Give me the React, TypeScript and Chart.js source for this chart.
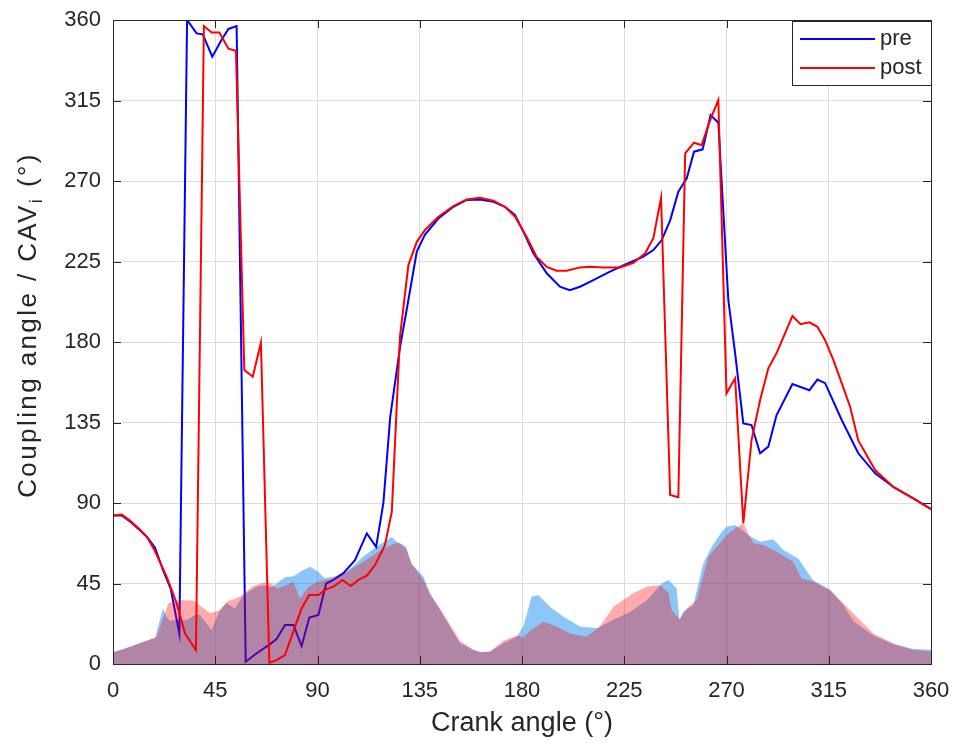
import React, { useEffect, useRef } from 'react';
import { Chart, registerables } from 'chart.js';

Chart.register(...registerables);

// ---- Data (crank angle in degrees) ----
const preAngles = [0, 3.8, 7.6, 11.6, 15, 18.5, 22, 25.4, 29.2, 32.6, 36.8, 39.5, 43.7, 47.8, 50.8, 54.4, 58.4, 63.2, 69, 72, 75.7, 79.4, 83, 86.4, 90.4, 93.8, 97, 101.4, 106.5, 111.7, 115.8, 119, 122, 126.3, 130, 133.7, 137.3, 143.2, 149.8, 155.7, 161.5, 167.4, 172.5, 176.9, 180.6, 185, 190.9, 196.7, 201, 205.5, 211.4, 218.7, 226, 233.4, 237.8, 241.5, 245.2, 248.8, 252.5, 255.7, 259.5, 263, 266.4, 270.8, 273.8, 277.4, 281, 284.8, 288.4, 292, 299, 306.5, 310, 313.4, 320.7, 328, 335.4, 343.4, 352.2, 360];
const preValues = [83, 83, 79.5, 75, 71, 65, 52.5, 42, 17, 360, 352.5, 352, 339.5, 349, 355, 356.6, 1.3, 6, 11, 14, 21.8, 21.8, 10, 26, 27.4, 45, 47, 50.8, 58, 73, 65.5, 90, 138, 177, 203.5, 230.5, 240, 249, 255.6, 259.4, 259.7, 258.4, 255.6, 251, 241.7, 229.6, 218.4, 210.9, 209, 210.9, 214.6, 219.3, 223.6, 227.7, 231.4, 237, 248, 264, 271.5, 286.4, 287.7, 306.9, 302.6, 203.5, 173.7, 134.5, 133.6, 117.8, 121.5, 139, 156.5, 153, 159, 157, 136.4, 117.8, 106.6, 99, 92.6, 86.5];

const postAngles = [0, 3.8, 7.6, 11.6, 15, 18.5, 23.6, 28, 31.7, 36.5, 40, 43.4, 46.8, 50.8, 54.1, 57.8, 61.5, 65.1, 68.8, 72, 75.7, 80.1, 83, 86.4, 90.4, 93.7, 97, 101, 104.6, 108, 111.7, 115.3, 119.7, 122.7, 126.3, 130, 133.7, 137.3, 143.2, 149.8, 155.7, 161.5, 167.4, 172.5, 177, 182, 186.4, 190.9, 195.2, 199.7, 205.5, 210, 215.8, 223.2, 229, 234.2, 237.8, 241.2, 245.2, 248.8, 251.8, 255.7, 259, 262.8, 266.4, 270, 273.8, 277.4, 281, 284.8, 288.4, 292, 299, 302.6, 306.5, 310, 313.4, 317, 320.7, 324.4, 328, 335.4, 343.4, 352.2, 360];
const postValues = [83, 83.5, 80, 75.5, 71, 63, 48.8, 34, 17, 7.8, 356.6, 353, 353, 344, 342.8, 164.3, 160.6, 179.6, 0.7, 2.2, 5, 20.9, 31, 38.6, 38.6, 41.7, 43.2, 47, 43.6, 47, 49.4, 55.3, 66.5, 85, 183, 223, 236, 242.6, 250, 256, 259.7, 260.6, 259, 255.6, 250, 238.8, 227.7, 222, 219.8, 219.8, 221.7, 222, 221.7, 221.7, 224.3, 229.6, 238, 260.6, 94.5, 93.2, 285.5, 291.4, 290, 304, 315.3, 151.3, 159.7, 78.6, 125, 147.6, 165.3, 173.7, 194.5, 190, 191, 188.5, 181, 170, 157, 143.8, 125, 108.4, 99, 92.6, 86.5];

// CAV (shaded areas)
const preCavAngles = [0, 5, 12, 18.5, 22, 23.6, 25, 29, 32.4, 36.8, 38.3, 43.4, 47, 50, 53.7, 57.3, 63.2, 66, 70, 73, 75.7, 79.4, 83, 86.7, 90.4, 93, 97, 102.8, 106, 110, 116, 122.6, 124.8, 126.3, 129, 131.4, 136.6, 139.5, 144, 148.3, 152.7, 158.6, 162, 166, 171.8, 177.7, 180.6, 184.2, 187.2, 192.3, 198.2, 205.5, 212.9, 220, 227.5, 235, 241.5, 244.4, 248, 249.3, 251, 255.4, 259.8, 263.5, 268, 270, 273.8, 276.7, 279.6, 284.8, 290.6, 295, 301.6, 308, 315.6, 321.4, 325.8, 334.6, 343.4, 352, 360];
const preCavValues = [6.5, 8.5, 11.7, 14.5, 31, 26.4, 24, 25, 24.6, 28, 27.4, 19, 30, 34, 31, 38.6, 43.2, 44, 43, 46, 48.5, 49, 52, 54.4, 51.6, 48, 48.8, 51.6, 55, 60, 65.6, 71, 68.4, 67.5, 65.6, 56, 48.8, 39.5, 30, 21, 11.6, 7.8, 6.5, 7, 11.6, 15.3, 21, 37.6, 38.6, 32, 26.4, 21, 20, 24.6, 29, 35.8, 45, 47, 42.3, 24.6, 29.2, 33, 56.3, 65.6, 74, 76.7, 77.7, 75, 72, 68.4, 69.7, 63.7, 59, 47, 41.4, 33, 24, 16, 11, 8.5, 8];

const postCavAngles = [0, 5, 12, 19.2, 24.3, 29.5, 35.4, 39, 42.7, 47, 50, 56, 61.7, 66, 69.8, 72, 76, 79.4, 82.3, 86, 90, 97, 101, 106, 110, 116, 120, 124, 126.3, 129, 131.4, 136.6, 140, 144, 148.3, 152.7, 158.6, 162, 166, 171.8, 177.7, 180.6, 184, 189.4, 195.2, 201, 208.5, 214.3, 220.2, 229, 234.9, 240.7, 244.4, 246, 249.3, 252.5, 256.9, 262, 266, 270, 274, 277.4, 281.8, 286.2, 292, 299.4, 303, 308.2, 315.6, 321.4, 327.3, 334.6, 343.4, 352, 360];
const postCavValues = [6.5, 8.5, 11.7, 15.3, 34, 35.8, 35.4, 32, 28.3, 30, 34.8, 37.6, 43.6, 45.4, 45, 42, 44, 46, 36.7, 43, 46, 48, 50, 54, 57, 62, 65, 67.5, 67.5, 64, 56, 47, 38, 31, 22, 13, 8, 6.5, 7, 13, 16, 15, 19, 23.6, 21, 17, 15.3, 21, 32, 39.5, 43.2, 44, 40, 30, 25, 31, 35.8, 60, 66, 72, 76, 78.6, 67.5, 66.5, 62.8, 57.2, 48, 46, 41.4, 34, 26.4, 17, 11.6, 7.8, 7];

const axisTicks = [0, 45, 90, 135, 180, 225, 270, 315, 360];
const seriesNames = ['pre', 'post'];

const toPoints = (xs: number[], ys: number[]) => xs.map((x, i) => ({ x, y: ys[i] }));

const AXIS_COLOR = '#262626';
const FONT = '"Liberation Sans", Arial, sans-serif';
const PRE_LINE = '#0000ff';
const POST_LINE = '#ff0000';

const framePlugin = {
  id: 'frame',
  afterDatasetsDraw(chart: any) {
    const { ctx, chartArea: a, scales } = chart;
    ctx.save();
    ctx.strokeStyle = AXIS_COLOR;
    ctx.lineWidth = 1;
    ctx.strokeRect(Math.round(a.left) + 0.5, Math.round(a.top) + 0.5, Math.round(a.right - a.left), Math.round(a.bottom - a.top));
    const tl = 8;
    ctx.beginPath();
    axisTicks.forEach((v) => {
      const x = Math.round(scales.x.getPixelForValue(v)) + 0.5;
      ctx.moveTo(x, a.bottom); ctx.lineTo(x, a.bottom - tl);
      ctx.moveTo(x, a.top); ctx.lineTo(x, a.top + tl);
      const y = Math.round(scales.y.getPixelForValue(v)) + 0.5;
      ctx.moveTo(a.left, y); ctx.lineTo(a.left + tl, y);
      ctx.moveTo(a.right, y); ctx.lineTo(a.right - tl, y);
    });
    ctx.stroke();
    ctx.restore();
  },
  afterDraw(chart: any) {
    const { ctx, chartArea: a } = chart;
    ctx.save();
    // y-axis title with subscript
    const main = `26px ${FONT}`;
    const sub = `18px ${FONT}`;
    const p1 = 'Coupling angle / CAV';
    const p2 = 'i';
    const p3 = ' (°)';
    (ctx as any).letterSpacing = '2.4px';
    ctx.font = main;
    const w1 = ctx.measureText(p1).width;
    const w3 = ctx.measureText(p3).width;
    ctx.font = sub;
    const w2 = ctx.measureText(p2).width;
    const total = w1 + w2 + w3;
    ctx.translate(29, 325);
    ctx.rotate(-Math.PI / 2);
    ctx.fillStyle = AXIS_COLOR;
    ctx.textBaseline = 'middle';
    ctx.textAlign = 'left';
    let x = -total / 2;
    ctx.font = main; ctx.fillText(p1, x, 0); x += w1;
    ctx.font = sub; ctx.fillText(p2, x, 8); x += w2;
    ctx.font = main; ctx.fillText(p3, x, 0);
    ctx.restore();

    // legend box
    ctx.save();
    const bx = 792, by = 21, bw = a.right - 792, bh = 64;
    ctx.fillStyle = '#ffffff';
    ctx.fillRect(bx, by, bw, bh);
    ctx.strokeStyle = AXIS_COLOR;
    ctx.lineWidth = 1;
    ctx.strokeRect(bx + 0.5, by + 0.5, bw, bh);
    const rows = [
      { name: seriesNames[0], color: PRE_LINE, y: 39 },
      { name: seriesNames[1], color: POST_LINE, y: 68 },
    ];
    ctx.font = `22px ${FONT}`;
    ctx.textBaseline = 'middle';
    ctx.textAlign = 'left';
    rows.forEach((r) => {
      ctx.strokeStyle = r.color;
      ctx.lineWidth = 2;
      ctx.beginPath();
      ctx.moveTo(800, r.y);
      ctx.lineTo(875, r.y);
      ctx.stroke();
      ctx.fillStyle = AXIS_COLOR;
      ctx.fillText(r.name, 880, r.y);
    });
    ctx.restore();
  },
};

export default function App() {
  const ref = useRef<HTMLCanvasElement>(null);
  useEffect(() => {
    if (!ref.current) return;
    const chart = new Chart(ref.current, {
      type: 'line',
      data: {
        datasets: [
          {
            label: seriesNames[1],
            data: toPoints(postAngles, postValues),
            borderColor: POST_LINE,
            borderWidth: 2,
            pointRadius: 0,
            fill: false,
            order: 0,
          },
          {
            label: seriesNames[1] + ' CAV',
            data: toPoints(postCavAngles, postCavValues),
            borderWidth: 0,
            borderColor: 'rgba(0,0,0,0)',
            backgroundColor: 'rgba(255,0,0,0.33)',
            pointRadius: 0,
            fill: 'origin',
            order: 1,
          },
          {
            label: seriesNames[0],
            data: toPoints(preAngles, preValues),
            borderColor: PRE_LINE,
            borderWidth: 2,
            pointRadius: 0,
            fill: false,
            order: 2,
          },
          {
            label: seriesNames[0] + ' CAV',
            data: toPoints(preCavAngles, preCavValues),
            borderWidth: 0,
            borderColor: 'rgba(0,0,0,0)',
            backgroundColor: 'rgba(0,128,240,0.45)',
            pointRadius: 0,
            fill: 'origin',
            order: 3,
          },
        ],
      },
      options: {
        animation: false,
        responsive: false,
        events: [],
        layout: { padding: { top: 20, right: 28, left: 0, bottom: 0 } },
        plugins: { legend: { display: false }, tooltip: { enabled: false } },
        scales: {
          x: {
            type: 'linear',
            min: 0,
            max: 360,
            afterBuildTicks: (s: any) => { s.ticks = axisTicks.map((v) => ({ value: v })); },
            afterFit: (s: any) => { s.height = 86; s.paddingLeft = 0; s.paddingRight = 0; },
            grid: { color: '#dcdcdc', lineWidth: 1, drawTicks: false },
            border: { display: true, color: AXIS_COLOR, width: 1 },
            ticks: { color: AXIS_COLOR, font: { family: FONT, size: 22 }, padding: 14, maxRotation: 0 },
            title: { display: true, text: 'Crank angle (°)', color: AXIS_COLOR, font: { family: FONT, size: 27 }, padding: { top: 0, bottom: 10 } },
          },
          y: {
            type: 'linear',
            min: 0,
            max: 360,
            afterBuildTicks: (s: any) => { s.ticks = axisTicks.map((v) => ({ value: v })); },
            afterFit: (s: any) => { s.width = 113; s.paddingTop = 0; s.paddingBottom = 0; },
            grid: { color: '#dcdcdc', lineWidth: 1, drawTicks: false },
            border: { display: true, color: AXIS_COLOR, width: 1 },
            ticks: { color: AXIS_COLOR, font: { family: FONT, size: 22 }, padding: 12 },
          },
        },
      },
      plugins: [framePlugin],
    });
    return () => chart.destroy();
  }, []);
  return (
    <div style={{ position: 'absolute', left: 0, top: 0, width: 959, height: 750, background: '#fff' }}>
      <canvas ref={ref} width={959} height={750} style={{ width: 959, height: 750, display: 'block' }} />
    </div>
  );
}
